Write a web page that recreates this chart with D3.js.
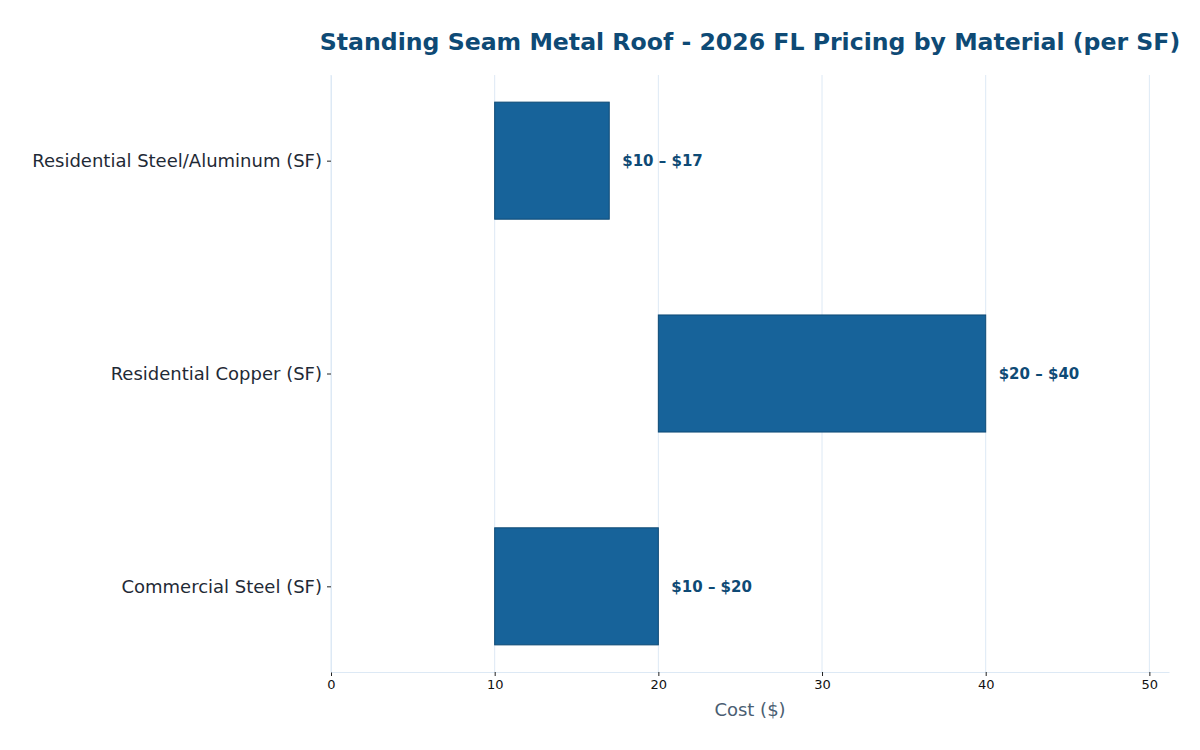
<!DOCTYPE html>
<html>
<head>
<meta charset="utf-8">
<script src="https://cdn.jsdelivr.net/npm/d3@7"></script>
<style>
  body { margin: 0; background: #fff; }
  text { font-family: "DejaVu Sans", sans-serif; }
</style>
</head>
<body>
<svg id="chart" width="1200" height="750"></svg>
<script>
// chart data
const categories = ["Residential Steel/Aluminum (SF)", "Residential Copper (SF)", "Commercial Steel (SF)"];
const lowValues = [10, 20, 10];
const highValues = [17, 40, 20];
const rangeLabels = ["$10 \u2013 $17", "$20 \u2013 $40", "$10 \u2013 $20"];
const xTicks = [0, 10, 20, 30, 40, 50];

const svg = d3.select("#chart");
const margin = {top: 75, right: 31, bottom: 78, left: 331};
const width = 1200 - margin.left - margin.right,
      height = 750 - margin.top - margin.bottom;

const g = svg.append("g").attr("transform", `translate(${margin.left},${margin.top})`);

const x = d3.scaleLinear().domain([0, 51.2]).range([0, width]);
// band positions like matplotlib barh: bar height 0.55, margins 5%
const y = d3.scaleLinear().domain([-0.4025, 2.4025]).range([0, height]);

// grid
g.append("g").selectAll("line")
  .data(xTicks)
  .enter().append("line")
    .attr("x1", d => x(d)).attr("x2", d => x(d))
    .attr("y1", 0).attr("y2", height)
    .attr("stroke", "#dde9f5").attr("stroke-width", 1);

// bars
g.append("g").selectAll("rect")
  .data(categories)
  .enter().append("rect")
    .attr("x", (d, i) => x(lowValues[i]))
    .attr("y", (d, i) => y(i - 0.275))
    .attr("width", (d, i) => x(highValues[i]) - x(lowValues[i]))
    .attr("height", y(0.55) - y(0))
    .attr("fill", "#17639a")
    .attr("stroke", "#0e4a75")
    .attr("stroke-width", 1);

// value labels
g.append("g").selectAll("text")
  .data(rangeLabels)
  .enter().append("text")
    .attr("x", (d, i) => x(highValues[i]) + 13)
    .attr("y", (d, i) => y(i))
    .attr("dy", "0.35em")
    .attr("fill", "#0e4a75")
    .attr("font-weight", "bold")
    .attr("font-size", "15px")
    .text(d => d);

// x axis
const xAxis = g.append("g")
  .attr("transform", `translate(0,${height})`)
  .call(d3.axisBottom(x).tickValues(xTicks).tickSize(4).tickSizeOuter(0).tickPadding(4));
xAxis.select(".domain").attr("stroke", "#dde9f5");
xAxis.selectAll(".tick line").attr("stroke", "#222");
xAxis.selectAll(".tick text").attr("font-size", "13px").attr("fill", "#111")
  .attr("font-family", "DejaVu Sans");

// y axis
const yAxis = g.append("g")
  .call(d3.axisLeft(y).tickValues([0, 1, 2]).tickFormat(i => categories[i]).tickSize(4).tickSizeOuter(0).tickPadding(5));
yAxis.select(".domain").attr("stroke", "#dde9f5");
yAxis.selectAll(".tick line").attr("stroke", "#222");
yAxis.selectAll(".tick text").attr("font-size", "18px").attr("fill", "#1f2a36")
  .attr("font-family", "DejaVu Sans");

// axis label
svg.append("text")
  .attr("x", margin.left + width / 2)
  .attr("y", 716)
  .attr("text-anchor", "middle")
  .attr("font-size", "18px")
  .attr("fill", "#4a5e72")
  .text("Cost ($)");

// title
svg.append("text")
  .attr("x", margin.left + width / 2)
  .attr("y", 50)
  .attr("text-anchor", "middle")
  .attr("font-size", "23.6px")
  .attr("font-weight", "bold")
  .attr("fill", "#0e4a75")
  .text("Standing Seam Metal Roof - 2026 FL Pricing by Material (per SF)");
</script>
</body>
</html>
